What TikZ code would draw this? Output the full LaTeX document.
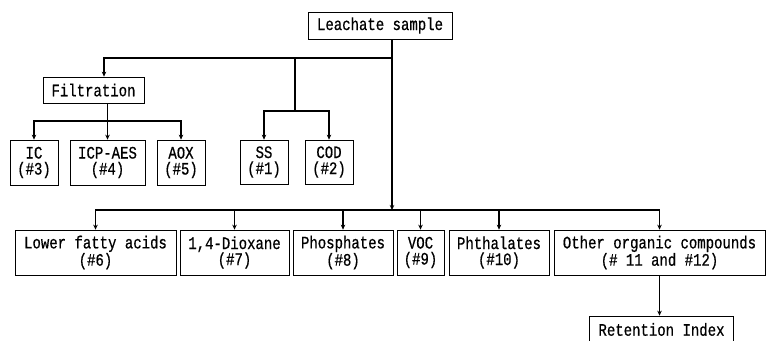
\documentclass[tikz,border=0pt]{standalone}
\usepackage{fontspec}
\newfontfamily\boxfont[FakeStretch=0.8,FakeBold=0.6]{Liberation Mono}
\usepackage{tikz}
\usetikzlibrary{arrows.meta,positioning}

\begin{document}
\begin{tikzpicture}[
  x=1pt, y=-1pt,
  font=\boxfont\fontsize{17.5}{16}\selectfont,
  box/.style={draw, line width=0.7pt, align=center, inner sep=1pt,
    minimum height=45pt},
  onebox/.style={box, minimum height=27pt},
  line/.style={line width=1.3pt},
  arr/.style={line, -{Stealth[length=5pt,width=4.5pt]}}
]
\useasboundingbox (0,0) rectangle (767,340);
% top of the tree
\node[onebox, minimum width=144pt] (leach) at (380,25.5) {Leachate sample};
\node[onebox, minimum width=101pt, minimum height=26pt] (filt) at (93.5,90) {Filtration};
% filtered and direct analyses
\node[box, minimum width=48pt] (ic)  at (34,162.5)    {IC\\(\#3)};
\node[box, minimum width=75pt] (icp) at (107.5,162.5) {ICP-AES\\(\#4)};
\node[box, minimum width=48pt] (aox) at (181,162.5)   {AOX\\(\#5)};
\node[box, minimum width=48pt, minimum height=44pt] (ss)  at (264,162) {SS\\(\#1)};
\node[box, minimum width=48pt, minimum height=44pt] (cod) at (329,162) {COD\\(\#2)};
% bottom row
\node[box, minimum width=161pt] (lfa)   at (95.5,252.5)  {Lower fatty acids\\(\#6)};
\node[box, minimum width=109pt] (diox)  at (234.5,252.5) {1,4-Dioxane\\(\#7)};
\node[box, minimum width=100pt] (phos)  at (343,252.5)   {Phosphates\\(\#8)};
\node[box, minimum width=47pt]  (voc)   at (420.5,252.5) {VOC\\(\#9)};
\node[box, minimum width=100pt] (phth)  at (499,252.5)   {Phthalates\\(\#10)};
\node[box, minimum width=211pt] (other) at (659.5,252.5) {Other organic compounds\\(\# 11 and \#12)};
\node[onebox, minimum width=144pt] (ret) at (661.5,329.5) {Retention Index};

\coordinate (tj) at (392,58);
\coordinate (sj) at (295,111);
\coordinate (fj) at (107.5,121);
\coordinate (bj) at (392,210);

\draw[line] (leach.south -| tj) -- (tj);
\draw[arr] (tj) -| ([xshift=10.5pt]filt.north);
\draw[line] (sj |- tj) -- (sj);
\draw[arr] (sj) -| (ss.north);
\draw[arr] (sj) -| (cod.north);
\draw[line] (filt.south -| fj) -- (fj);
\foreach \n in {ic,icp,aox}
  \draw[arr] (fj) -| (\n.north);
\draw[arr] (tj) -- (bj);
\foreach \n in {lfa,diox,phos,voc,phth,other}
  \draw[arr] (bj) -| (\n.north);
\draw[arr] (other.south) -- (ret.north -| other.south);
\end{tikzpicture}
\end{document}
